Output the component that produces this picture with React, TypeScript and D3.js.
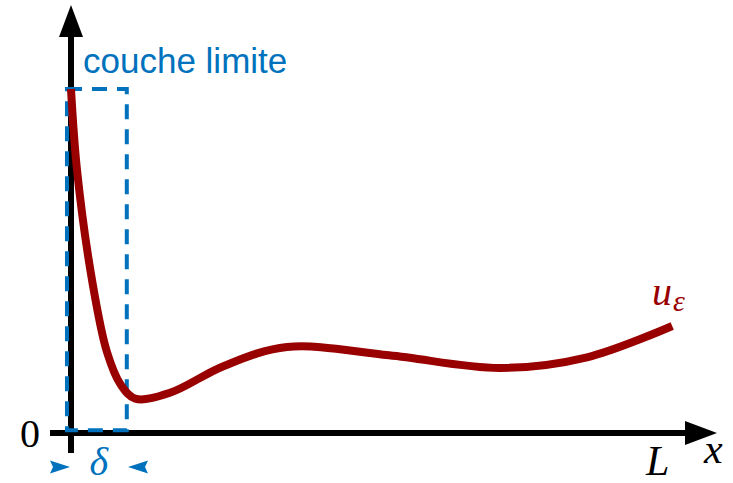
import React from "react";
import * as d3 from "d3";

const W = 733;
const H = 483;

// curve u_eps (x in [0, L], L = 10)
const curveX = [0, 0.1, 0.35, 0.6, 0.83, 1.07, 1.65, 2.55, 3.6, 5.3, 7.15, 8.6, 10.02];
const curveY = [10, 7.65, 4.45, 2.35, 1.4, 1.0, 1.17, 1.95, 2.5, 2.26, 1.89, 2.2, 3.11];

const boxX = [-0.067, 0.93];
const boxY = [0.08, 10];
const labelL = 9.78;

const BLUE = "#0072BD";
const RED = "#990000";

export default function App() {
  const x = d3.scaleLinear().domain([0, 10]).range([71, 671]);
  const y = d3.scaleLinear().domain([0, 10]).range([433, 89]);

  const pts: [number, number][] = curveX.map((v, i) => [v, curveY[i]]);
  const line = d3
    .line<[number, number]>()
    .x((d) => x(d[0]))
    .y((d) => y(d[1]))
    .curve(d3.curveCatmullRom.alpha(0.5));

  const x0 = x(0);
  const y0 = y(0);
  const xEnd = 717;
  const yTop = 5;
  const ah = 32;
  const aw = 12;

  const chevron = "M -10,-6.5 L 10,0 L -10,6.5 L -7,0 Z";
  const boxCx = (x(boxX[0]) + x(boxX[1])) / 2;

  return (
    <svg width={W} height={H} style={{ position: "absolute", left: 0, top: 0, background: "#fff" }}>
      {/* axes */}
      <line x1={50} y1={y0} x2={xEnd - ah + 2} y2={y0} stroke="#000" strokeWidth={6} />
      <path d={`M ${xEnd},${y0} L ${xEnd - ah},${y0 - aw} L ${xEnd - ah},${y0 + aw} Z`} fill="#000" />
      <line x1={x0} y1={453} x2={x0} y2={yTop + ah - 2} stroke="#000" strokeWidth={6} />
      <path d={`M ${x0},${yTop} L ${x0 - aw},${yTop + ah} L ${x0 + aw},${yTop + ah} Z`} fill="#000" />

      {/* boundary layer box */}
      <rect
        x={x(boxX[0])}
        y={y(boxY[1])}
        width={x(boxX[1]) - x(boxX[0])}
        height={y(boxY[0]) - y(boxY[1])}
        fill="none"
        stroke={BLUE}
        strokeWidth={4}
        strokeDasharray="15 10"
      />

      {/* curve */}
      <path d={line(pts) || ""} fill="none" stroke={RED} strokeWidth={8} strokeLinecap="butt" strokeLinejoin="round" />

      {/* labels */}
      <text x={83} y={73} fontFamily="Liberation Sans, Arial, sans-serif" fontSize={35} fill={BLUE}>
        couche limite
      </text>
      <text x={40} y={447} textAnchor="end" fontFamily="'Liberation Serif', serif" fontSize={40} fill="#000">
        0
      </text>
      <text x={x(labelL)} y={475} textAnchor="middle" fontFamily="'Liberation Serif', serif" fontStyle="italic" fontSize={42} fill="#000">
        L
      </text>
      <text x={704} y={463} fontFamily="'Liberation Serif', serif" fontStyle="italic" fontSize={42} fill="#000">
        x
      </text>
      <text x={652} y={305} fontFamily="'Liberation Serif', serif" fontStyle="italic" fontSize={40} fill={RED}>
        u
      </text>
      <text x={673} y={311} fontFamily="'Liberation Serif', serif" fontStyle="italic" fontSize={30} fill={RED}>
        ε
      </text>
      <text x={boxCx + 2} y={475} textAnchor="middle" fontFamily="'Liberation Serif', serif" fontStyle="italic" fontSize={40} fill={BLUE}>
        δ
      </text>
      <path d={chevron} transform={`translate(60,467)`} fill={BLUE} />
      <path d={chevron} transform={`translate(138,467) scale(-1,1)`} fill={BLUE} />
    </svg>
  );
}
